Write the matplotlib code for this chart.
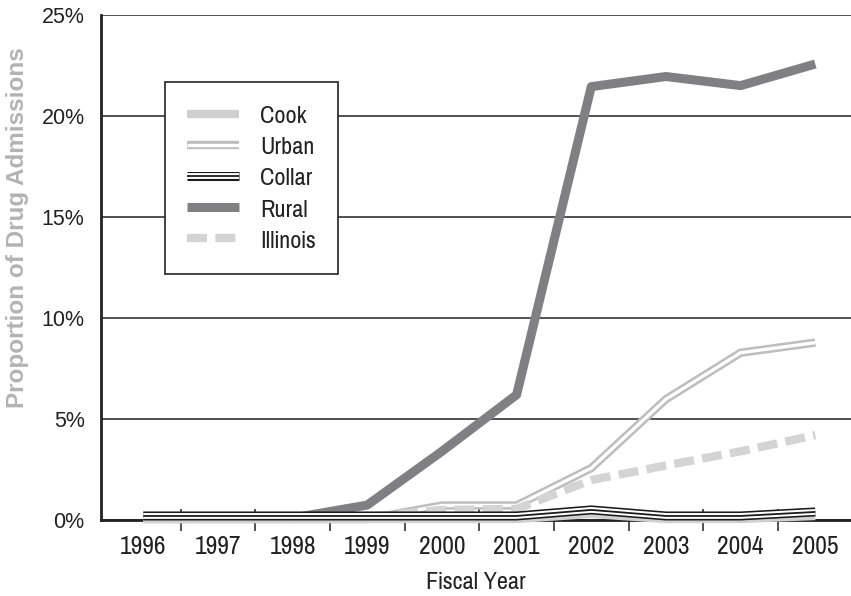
import numpy as np
import matplotlib
matplotlib.use('Agg')
import matplotlib.pyplot as plt
from matplotlib.lines import Line2D

# данные (доля в процентах)
years = ['1996', '1997', '1998', '1999', '2000', '2001', '2002', '2003', '2004', '2005']
cook = [0.05, 0.05, 0.05, 0.05, 0.05, 0.05, 0.3, 0.05, 0.05, 0.2]
urban = [0.05, 0.05, 0.05, 0.05, 0.72, 0.72, 2.57, 5.98, 8.28, 8.78]
collar = [0.2, 0.2, 0.2, 0.2, 0.2, 0.2, 0.5, 0.2, 0.2, 0.4]
rural = [0.1, 0.1, 0.1, 0.74, 3.4, 6.2, 21.45, 21.95, 21.5, 22.57]
illinois = [0.05, 0.05, 0.05, 0.15, 0.5, 0.55, 1.98, 2.7, 3.4, 4.2]
y_ticks = [0, 5, 10, 15, 20, 25]

narrow = ['Pragati Narrow', 'Roboto Condensed', 'DejaVu Sans']
plain = ['Liberation Sans', 'DejaVu Sans']

fig = plt.figure(figsize=(8.51, 5.96), dpi=100)
ax = fig.add_axes([0.119, 0.1275, 0.881, 0.8475])

x = np.arange(len(years))

# стили линий
rural_style = dict(color='#808083', lw=6.5, solid_capstyle='butt')
urban_outer = dict(color='#bdbdbd', lw=6.0, solid_capstyle='butt')
urban_inner = dict(color='white', lw=2.4, solid_capstyle='butt')
ill_style = dict(color='#d4d4d4', lw=6.0, dashes=(2.4, 1.0), dash_capstyle='butt')
cook_style = dict(color='#d0d0d0', lw=6.0, solid_capstyle='butt')
collar_outer = dict(color='#1a1a1a', lw=6.5, solid_capstyle='butt')
collar_white = dict(color='white', lw=4.2, solid_capstyle='butt')
collar_inner = dict(color='#1a1a1a', lw=1.3, solid_capstyle='butt')

ax.plot(x, rural, zorder=3, clip_on=False, **rural_style)
ax.plot(x, urban, zorder=4, clip_on=False, **urban_outer)
ax.plot(x, urban, zorder=4.1, clip_on=False, **urban_inner)
ax.plot(x, illinois, zorder=4.5, clip_on=False, **ill_style)
ax.plot(x, cook, zorder=5, clip_on=False, **cook_style)
ax.plot(x, collar, zorder=6, clip_on=False, **collar_outer)
ax.plot(x, collar, zorder=6.1, clip_on=False, **collar_white)
ax.plot(x, collar, zorder=6.2, clip_on=False, **collar_inner)

ax.set_xlim(-0.562, 9.478)
ax.set_ylim(0, 25)

ax.set_yticks(y_ticks)
ax.set_yticklabels([f'{v}%' for v in y_ticks], fontsize=15.5, family=plain, color='#222222')
ax.tick_params(axis='y', length=0, pad=12)
ax.yaxis.grid(True, color='#222222', lw=1.1)
ax.set_axisbelow(True)

ax.set_xticks(x)
ax.set_xticklabels(years, fontsize=20, family=narrow, color='#222222')
ax.tick_params(axis='x', which='major', length=0, pad=11)
ax.set_xticks(x[:-1] + 0.5, minor=True)
ax.tick_params(axis='x', which='minor', direction='inout', length=16, width=1.2, color='#333333')

for s in ['top', 'right']:
    ax.spines[s].set_visible(False)
ax.spines['left'].set_linewidth(2)
ax.spines['bottom'].set_linewidth(2)
ax.spines['left'].set_color('#222222')
ax.spines['bottom'].set_color('#222222')

ax.set_xlabel('Fiscal Year', fontsize=19, family=narrow, color='#222222', labelpad=10)
ax.set_ylabel('Proportion of Drug Admissions', fontsize=17.5, fontweight='bold',
              family=plain, color='#b3b3b3')
ax.yaxis.set_label_coords(-0.096, 0.578)

# легенда
h_cook = Line2D([], [], **cook_style)
h_urban = (Line2D([], [], **urban_outer), Line2D([], [], **urban_inner))
h_collar = (Line2D([], [], **collar_outer), Line2D([], [], **collar_white), Line2D([], [], **collar_inner))
h_rural = Line2D([], [], **rural_style)
h_ill = Line2D([], [], **ill_style)
leg = ax.legend([h_cook, h_urban, h_collar, h_rural, h_ill],
                ['Cook', 'Urban', 'Collar', 'Rural', 'Illinois'],
                loc='upper left', bbox_to_anchor=(0.085, 0.867), borderaxespad=0,
                fancybox=False, edgecolor='#222222', framealpha=1,
                prop={'family': narrow, 'size': 19},
                handlelength=1.96, handletextpad=0.8, labelspacing=0.33,
                borderpad=0.85)
leg.get_frame().set_linewidth(1.2)
for t in leg.get_texts():
    t.set_color('#222222')

fig.savefig('out.png', dpi=100)
